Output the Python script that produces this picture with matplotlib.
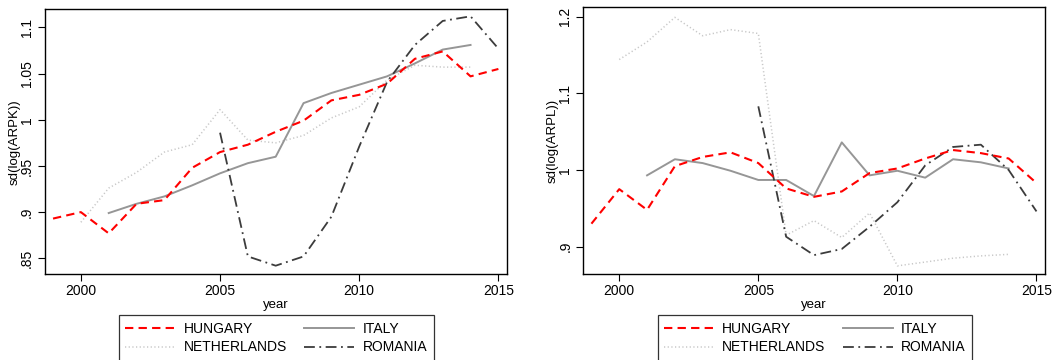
import matplotlib
matplotlib.use("Agg")
import matplotlib.pyplot as plt
from matplotlib.lines import Line2D

plt.rcParams['font.family'] = ['Liberation Sans', 'DejaVu Sans']

# Dispersion of log ARPK / ARPL by country and year
hun_years = list(range(1999, 2016))
ita_years = list(range(2001, 2015))
nld_years = list(range(2000, 2015))
rou_years = list(range(2005, 2016))

hun_arpk = [0.893, 0.900, 0.877, 0.909, 0.913, 0.948, 0.965, 0.973, 0.987,
            0.999, 1.021, 1.027, 1.039, 1.066, 1.074, 1.047, 1.055]
ita_arpk = [0.899, 0.909, 0.917, 0.929, 0.942, 0.953, 0.960, 1.018, 1.029,
            1.038, 1.047, 1.061, 1.076, 1.081]
nld_arpk = [0.889, 0.926, 0.943, 0.965, 0.973, 1.011, 0.978, 0.975, 0.983,
            1.002, 1.014, 1.043, 1.059, 1.057, 1.057]
rou_arpk = [0.986, 0.852, 0.842, 0.852, 0.895, 0.971, 1.041, 1.081, 1.107,
            1.112, 1.077]

hun_arpl = [0.930, 0.975, 0.948, 1.005, 1.017, 1.023, 1.009, 0.976, 0.965,
            0.972, 0.996, 1.002, 1.015, 1.026, 1.022, 1.015, 0.983]
ita_arpl = [0.993, 1.014, 1.009, 0.999, 0.987, 0.987, 0.966, 1.036, 0.993,
            0.999, 0.990, 1.014, 1.010, 1.002]
nld_arpl = [1.144, 1.167, 1.199, 1.175, 1.183, 1.178, 0.915, 0.934, 0.912,
            0.944, 0.875, 0.880, 0.885, 0.888, 0.890]
rou_arpl = [1.083, 0.913, 0.889, 0.897, 0.926, 0.958, 1.006, 1.030, 1.033,
            1.000, 0.946]

x_ticks = [2000, 2005, 2010, 2015]
arpk_ticks = [0.85, 0.9, 0.95, 1.0, 1.05, 1.1]
arpk_labels = ['.85', '.9', '.95', '1', '1.05', '1.1']
arpl_ticks = [0.9, 1.0, 1.1, 1.2]
arpl_labels = ['.9', '1', '1.1', '1.2']

styles = {
    'HUNGARY': dict(color='#ff0000', lw=1.5, dashes=(4, 2.5)),
    'ITALY': dict(color='#969696', lw=1.4, linestyle='-'),
    'NETHERLANDS': dict(color='#c8c8c8', lw=1.1, dashes=(0.8, 1.6)),
    'ROMANIA': dict(color='#3c3c3c', lw=1.3, dashes=(6, 2.5, 1, 2.5)),
}

fig = plt.figure(figsize=(10.53, 3.6), dpi=100)
ax1 = fig.add_axes([0.0427, 0.2389, 0.4388, 0.735])
ax2 = fig.add_axes([0.554, 0.2389, 0.4385, 0.741])


def draw(ax, hun, ita, nld, rou, ticks, labels, ylim, ylabel):
    ax.plot(nld_years, nld, **styles['NETHERLANDS'])
    ax.plot(ita_years, ita, **styles['ITALY'])
    ax.plot(rou_years, rou, **styles['ROMANIA'])
    ax.plot(hun_years, hun, **styles['HUNGARY'])
    ax.set_xlim(1998.71, 2015.31)
    ax.set_ylim(*ylim)
    ax.set_xticks(x_ticks)
    ax.set_yticks(ticks)
    ax.set_yticklabels(labels, rotation=90, va='center')
    ax.tick_params(labelsize=10, length=5, width=0.8, direction='out')
    ax.tick_params(axis='x', pad=2)
    ax.tick_params(axis='y', pad=3)
    ax.set_xlabel('year', fontsize=9.5, labelpad=1)
    ax.set_ylabel(ylabel, fontsize=9.5, labelpad=-0.5)
    for s in ax.spines.values():
        s.set_linewidth(1.0)

    handles = [Line2D([], [], **styles[k]) for k in
               ['HUNGARY', 'NETHERLANDS', 'ITALY', 'ROMANIA']]
    names = ['HUNGARY', 'NETHERLANDS', 'ITALY', 'ROMANIA']
    pos = ax.get_position()
    leg = fig.legend(handles, names, ncol=2, loc='upper left',
                     bbox_to_anchor=(pos.x0 + 0.0705, 0.124),
                     fontsize=10, frameon=True, fancybox=False,
                     edgecolor='black', handlelength=3.6, handletextpad=0.6,
                     columnspacing=1.25, borderpad=0.45, labelspacing=0.35,
                     borderaxespad=0)
    leg.get_frame().set_linewidth(0.9)


draw(ax1, hun_arpk, ita_arpk, nld_arpk, rou_arpk, arpk_ticks, arpk_labels,
     (0.833, 1.1195), 'sd(log(ARPK))')
draw(ax2, hun_arpl, ita_arpl, nld_arpl, rou_arpl, arpl_ticks, arpl_labels,
     (0.8644, 1.2122), 'sd(log(ARPL))')

fig.savefig('out.png', dpi=100, facecolor='white')
